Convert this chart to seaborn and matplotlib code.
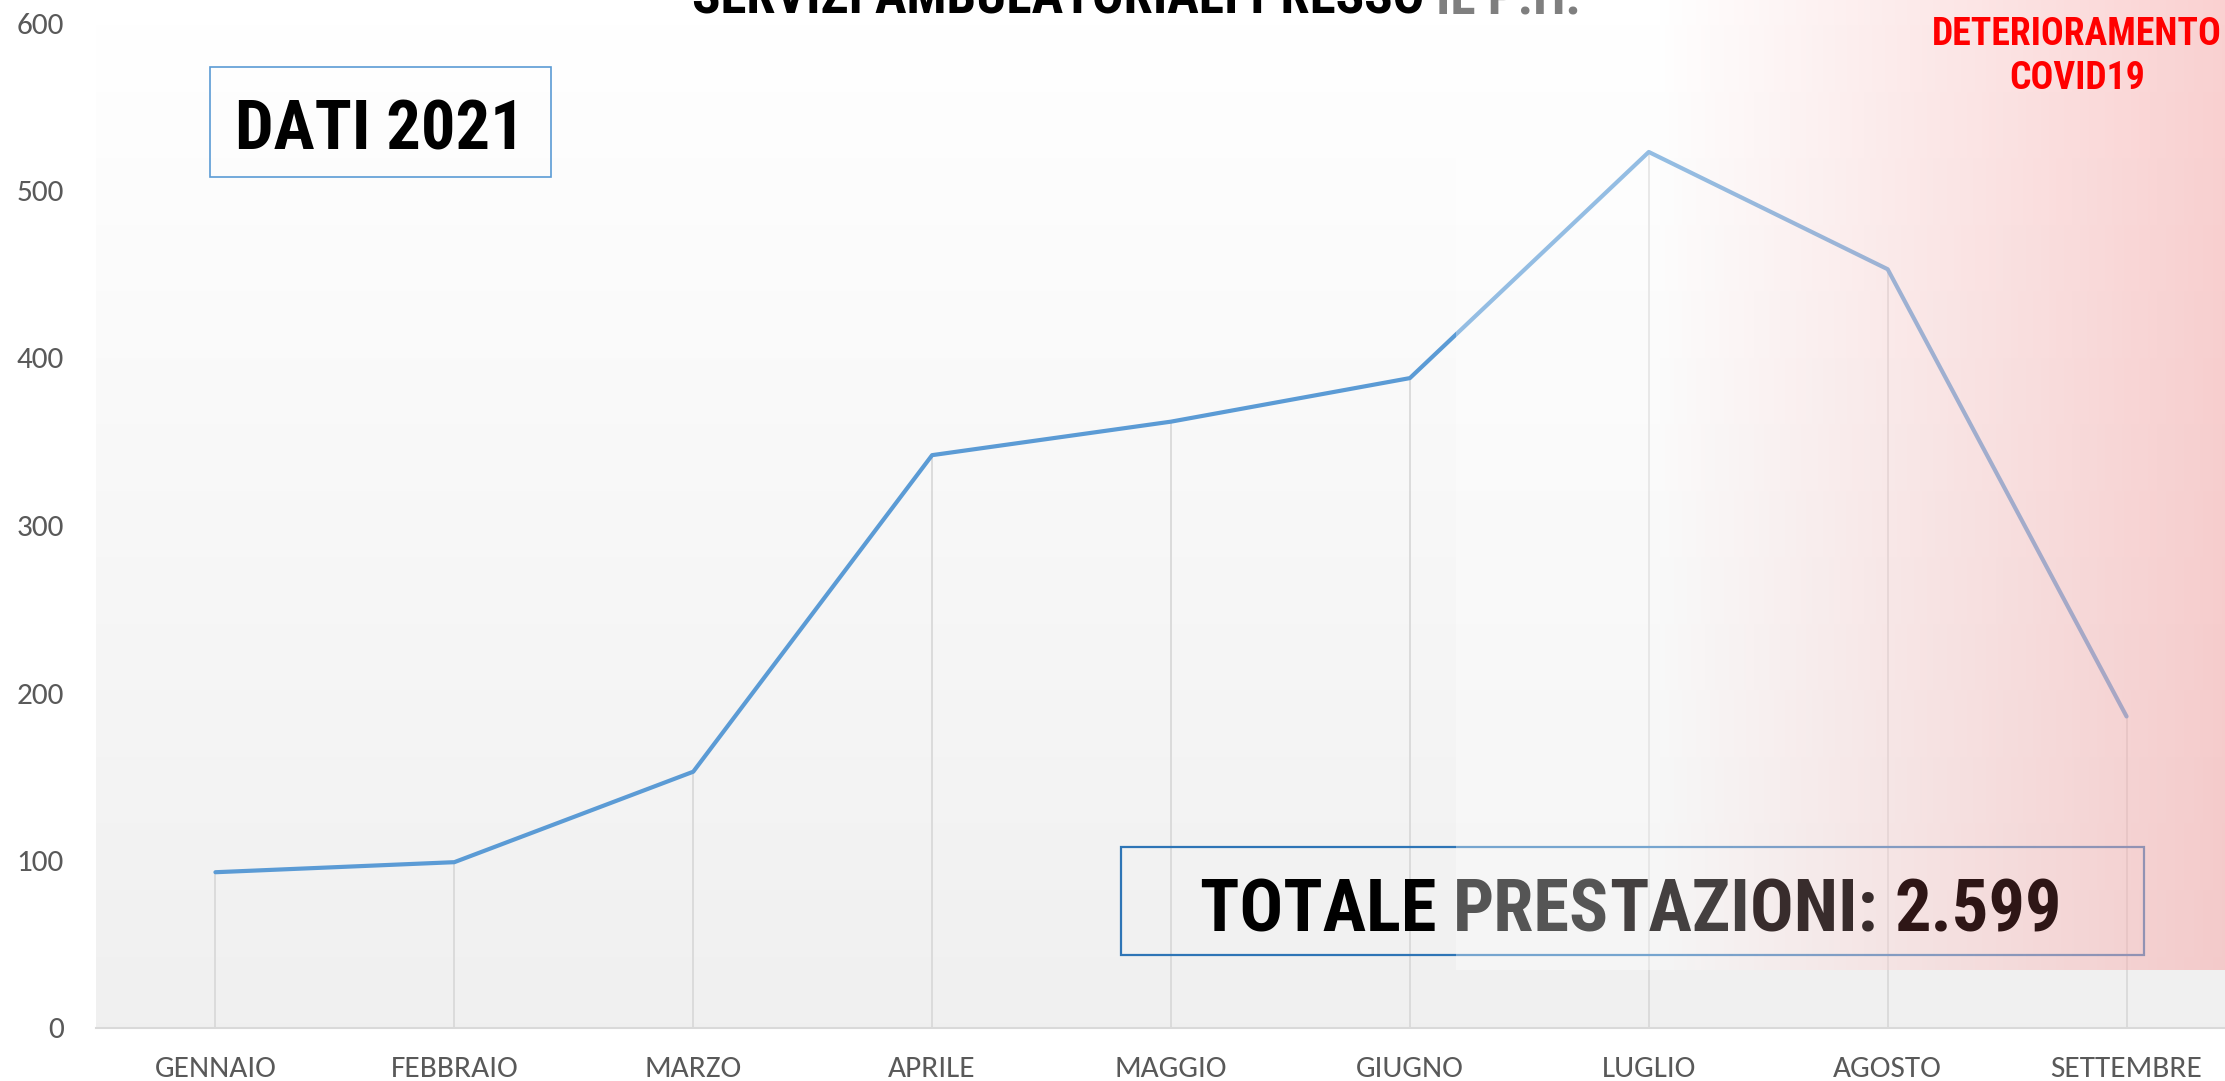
import numpy as np
import pandas as pd
import matplotlib.pyplot as plt
import seaborn as sns
from matplotlib import font_manager
from matplotlib.patches import Rectangle

# dati
mesi = ["GENNAIO", "FEBBRAIO", "MARZO", "APRILE", "MAGGIO",
        "GIUGNO", "LUGLIO", "AGOSTO", "SETTEMBRE"]
prestazioni = [93, 99, 153, 342, 362, 388, 523, 453, 186]
y_ticks = [0, 100, 200, 300, 400, 500, 600]
titolo_nero = "SERVIZI AMBULATORIALI PRESSO "
titolo_grigio = "IL P.H."
etichetta_anno = "DATI 2021"
nota_covid = ["DETERIORAMENTO", "COVID19"]
totale_pezzi = ["TOTALE ", "PRES", "TAZI", "ONI: ", "2.599"]
totale_colori = ["#000000", "#555555", "#444040", "#382c2c", "#2e1616"]

W, H = 2225, 1081


def pick_font(candidates, fallback, weight=None):
    for name in candidates:
        found = [f for f in font_manager.fontManager.ttflist
                 if f.name == name and f.style == "normal"]
        if weight is not None:
            found = [f for f in found if f.weight == weight and "[" not in f.fname]
        if found:
            return name
    return fallback


sns.set_style("white")
narrow = pick_font(["Liberation Sans Narrow", "Archivo Narrow", "Roboto Condensed"],
                   "Liberation Sans", weight=700)
body = pick_font(["Carlito", "Calibri"], None)
tick_size = 22.5 if body else 19
body = body or "Open Sans"
plt.rcParams["font.family"] = [body, "DejaVu Sans"]

df = pd.DataFrame({"pos": np.arange(len(mesi)), "mese": mesi, "valore": prestazioni})

fig = plt.figure(figsize=(W / 100, H / 100), dpi=100)
fig.patch.set_facecolor("white")

# main plot area (runs a bit past the right edge, like the original)
ax = fig.add_axes([96 / W, 53 / H, 2150 / W, 1005 / H], zorder=0)

# vertical grey gradient background
shade = np.linspace(0.941, 1.0, 256)
bg = np.repeat(shade[:, None, None], 3, axis=2)
ax.imshow(bg, extent=(-0.5, len(mesi) - 0.5, 0, 600), origin="lower",
          aspect="auto", zorder=0, interpolation="bilinear")

# drop lines + the series
ax.vlines(df["pos"], 0, df["valore"], color="#d9d9d9", lw=1.3, zorder=1)
sns.lineplot(data=df, x="pos", y="valore", ax=ax, color="#5b9bd5",
             linewidth=3, zorder=2)

ax.set_xlim(-0.5, len(mesi) - 0.5)
ax.set_ylim(0, 600)
ax.set_yticks(y_ticks)
ax.set_xticks(df["pos"])
ax.set_xticklabels(mesi)
ax.set_xlabel("")
ax.set_ylabel("")
ax.tick_params(axis="both", length=0, labelsize=tick_size, labelcolor="#595959")
ax.tick_params(axis="y", pad=23)
ax.tick_params(axis="x", pad=20)
sns.despine(ax=ax, left=True, top=True, right=True)
ax.spines["bottom"].set_color("#d9d9d9")
ax.spines["bottom"].set_linewidth(1.5)

# overlay layer in pixel coordinates
axo = fig.add_axes([0, 0, 1, 1], zorder=1)
axo.patch.set_alpha(0)
axo.axis("off")

# whitish veil + red "covid" gradient
xs = np.arange(1456, W)
a_w = 0.35
t = np.clip((xs - 1660) / (W - 1660), 0, 1)
a_r = 0.27 * t
alpha = 1 - (1 - a_w) * (1 - a_r)
red = np.array([238, 85, 85]) / 255
col = (a_w * (1 - a_r))[:, None] * np.ones(3) + a_r[:, None] * red
col = col / alpha[:, None]
rgba = np.concatenate([col, alpha[:, None]], axis=1)[None, :, :]

axo.add_patch(Rectangle((1121, 847), 1023, 108, fill=False,
                        ec="#2e75b6", lw=1.6, zorder=1))
axo.add_patch(Rectangle((210, 67), 341, 110, fill=False,
                        ec="#5b9bd5", lw=1.2, zorder=1))
axo.imshow(rgba, extent=(1456, W, 970, 0), aspect="auto", zorder=2,
           interpolation="bilinear")
axo.set_xlim(0, W)
axo.set_ylim(H, 0)

big = dict(family=[narrow, "DejaVu Sans"], weight="bold")

# title (cut off at the top in the original)
tit = [axo.text(692, 14, titolo_nero, ha="left", va="baseline",
                size=32, color="black", zorder=3, **big)]
tit.append(axo.annotate(titolo_grigio, xy=(1, 0), xycoords=tit[0], ha="left",
                        va="bottom", size=32, color="#7f7f7f", zorder=3, **big))

anno = [axo.text(380, 150, etichetta_anno, ha="center", va="baseline", size=53,
                 color="black", zorder=3, **big)]

covid = [axo.text(2077, 45, nota_covid[0], ha="center", va="baseline", size=27,
                  color="#ff0000", zorder=3, **big),
         axo.text(2077, 89, nota_covid[1], ha="center", va="baseline", size=27,
                  color="#ff0000", zorder=3, **big)]

tot = [axo.text(1200, 931, totale_pezzi[0], ha="left", va="baseline",
                size=53, color=totale_colori[0], zorder=3, **big)]
for pezzo, colore in zip(totale_pezzi[1:], totale_colori[1:]):
    tot.append(axo.annotate(pezzo, xy=(1, 0), xycoords=tot[-1], ha="left",
                            va="bottom", size=53, color=colore, zorder=3, **big))


def fit_width(texts, target):
    fig.canvas.draw()
    r = fig.canvas.get_renderer()
    boxes = [t.get_window_extent(r) for t in texts]
    width = max(b.x1 for b in boxes) - min(b.x0 for b in boxes)
    k = target / width
    for t in texts:
        t.set_fontsize(t.get_fontsize() * k)


# widths measured on the original picture
fit_width(tit, 890)
fit_width(anno, 290)
fit_width(covid, 290)
fit_width(tot, 862)

fig.savefig("out.png", dpi=100, facecolor="white")
